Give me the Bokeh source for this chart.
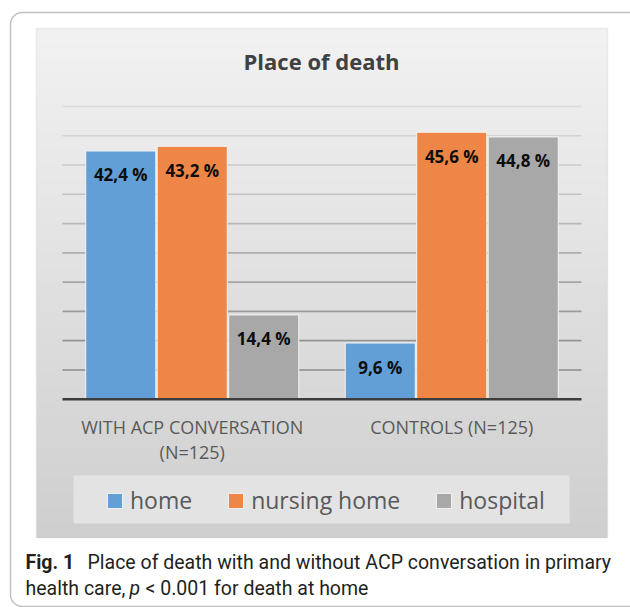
from bokeh.plotting import figure
from bokeh.models import (BoxAnnotation, Label, Legend, LegendItem,
                          Range1d, ColumnDataSource)
from bokeh.core.properties import value
from bokeh.embed import file_html
from bokeh.resources import INLINE

# ---------------- data ----------------
categories = ["WITH ACP CONVERSATION (N=125)", "CONTROLS (N=125)"]
category_tick_labels = ["WITH ACP CONVERSATION\n(N=125)", "CONTROLS (N=125)"]
series_names = ["home", "nursing home", "hospital"]
home = [42.4, 9.6]
nursing_home = [43.2, 45.6]
hospital = [14.4, 44.8]
grid_values = [5, 10, 15, 20, 25, 30, 35, 40, 45, 50]
title_text = "Place of death"
caption_bold = "Fig. 1"
caption_line1 = "Place of death with and without ACP conversation in primary"
caption_line2a = "health care,"
caption_p = "p"
caption_line2b = "< 0.001 for death at home"

# ---------------- layout / styles ----------------
colors = ["#629fd6", "#ee8647", "#a8a8a8"]
offsets = [-0.2755, 0.0, 0.2755]
W, H = 630, 607
# plot area (category band) in canvas pixels
PX_L, PX_R, PY_T, PY_B = 62, 581, 106, 398.7
ymax = 50
xppu = (PX_R - PX_L) / len(categories)
yppu = (PY_B - PY_T) / ymax
x_range = Range1d(-PX_L / xppu, len(categories) + (W - PX_R) / xppu)
y_range = Range1d(-(H - PY_B) / yppu, ymax + PY_T / yppu)

p = figure(x_range=x_range, y_range=y_range, width=W, height=H,
           output_backend="svg", toolbar_location=None,
           x_axis_location=None, y_axis_location=None,
           min_border=0, min_border_left=0, min_border_right=0,
           min_border_top=0, min_border_bottom=0)
p.outline_line_color = None
p.border_fill_color = "white"
p.background_fill_color = "white"
p.grid.visible = False


def cbox(l, r, t, b, **kw):
    p.add_layout(BoxAnnotation(left=l, right=r, top=t, bottom=b,
                               left_units="canvas", right_units="canvas",
                               top_units="canvas", bottom_units="canvas",
                               level="underlay", **kw))


# grey chart-area background as gradient bands
top_c, bot_c = 0xF1, 0xCF
x0, x1, y0, y1 = 36, 607, 28, 537
nb = 34
for i in range(nb):
    t0 = y0 + (y1 - y0) * i / nb
    t1 = y0 + (y1 - y0) * (i + 1) / nb
    g = int(round(top_c + (bot_c - top_c) * i / (nb - 1)))
    cbox(x0, x1, t0, t1 + 0.6, fill_color="#%02x%02x%02x" % (g, g, g),
         fill_alpha=1, line_color=None)
cbox(x0, x1, y0, y1, fill_alpha=0, line_color="#c6c6c6", line_width=1.5)
# legend background box
cbox(73, 569, 475, 523, fill_color="#e3e3e3", fill_alpha=1, line_color=None)
# outer rounded frame
cbox(10, 700, 12, 606, fill_alpha=0, line_color="#333333", line_width=1.5,
     border_radius=12)

xs = [i + 0.5 for i in range(len(categories))]

# gridlines (lighter towards the top)
gcols = []
for gv in grid_values:
    g = int(round(0x8a + (0xdc - 0x8a) * (gv - 5) / 45))
    gcols.append("#%02x%02x%02x" % (g, g, g))
p.segment(x0=[0] * len(grid_values), x1=[len(categories)] * len(grid_values),
          y0=grid_values, y1=grid_values, line_color=gcols, line_width=1.6)

# bars
renderers = []
for vals, off, col in zip([home, nursing_home, hospital], offsets, colors):
    src = ColumnDataSource(dict(x=[xc + off for xc in xs], top=vals))
    r = p.vbar(x="x", top="top", width=0.27, source=src, fill_color=col,
               line_color="#f4f4f4", line_width=1)
    renderers.append(r)

# baseline (category axis line)
p.segment(x0=[0], x1=[len(categories)], y0=[0], y1=[0],
          line_color="#3c3c3c", line_width=2.5)

# value labels inside bar tops
for vals, off in zip([home, nursing_home, hospital], offsets):
    labs = [("%.1f" % v).replace(".", ",") + " %" for v in vals]
    s = ColumnDataSource(dict(x=[xc + off for xc in xs], v=vals, lab=labs))
    p.text(x="x", y="v", text="lab", source=s,
           y_offset=24, text_align="center", text_baseline="middle",
           text_font=value("Open Sans"), text_font_style="bold",
           text_font_size="17px", text_color="#0d0d0d")

# category labels
cs = ColumnDataSource(dict(x=xs, y=[0] * len(xs), t=category_tick_labels))
p.text(x="x", y="y", text="t", source=cs, y_offset=16, text_align="center",
       text_baseline="top", text_font=value("Open Sans"),
       text_font_size="18px", text_color="#595959", text_line_height=1.05)

# legend
legend = Legend(items=[LegendItem(label=n, renderers=[r])
                       for n, r in zip(series_names, renderers)],
                orientation="horizontal", location=(105, 91),
                glyph_width=19, glyph_height=19, label_standoff=6, spacing=34,
                padding=0, margin=0, background_fill_alpha=0,
                border_line_color=None, label_text_font="Open Sans",
                label_text_font_size="23px", label_text_color="#595959")
p.add_layout(legend)


# title and caption
def lab(text, x, y, size, style="normal", color="#333333", font="Roboto",
        baseline="alphabetic", align="left"):
    p.add_layout(Label(x=x, y=y, x_units="canvas", y_units="canvas", text=text,
                       text_font=font, text_font_size=size,
                       text_font_style=style, text_color=color,
                       text_baseline=baseline, text_align=align))


lab(title_text, 321, 60, "22px", "bold", "#404040", "Open Sans", "middle", "center")
lab(caption_bold, 25, 562, "19.5px", "bold", "#231f20")
lab(caption_line1, 87, 562, "19.5px", "normal", "#231f20")
lab(caption_line2a, 25, 588, "19.5px", "normal", "#231f20")
lab(caption_p, 129, 588, "19.5px", "italic", "#231f20")
lab(caption_line2b, 145, 588, "19.5px", "normal", "#231f20")

open("out.html", "w").write(file_html(p, INLINE))
